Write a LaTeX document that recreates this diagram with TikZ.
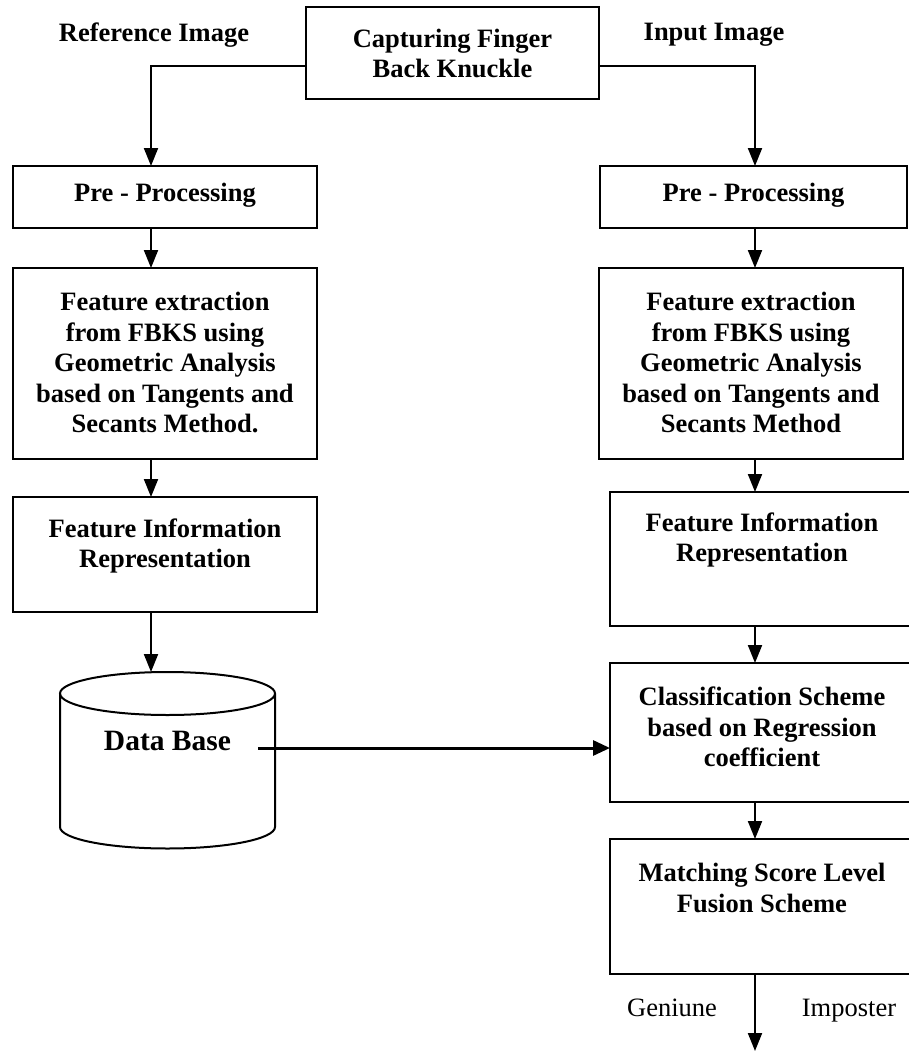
\documentclass[tikz,border=0pt]{standalone}
\usepackage{fontspec}
\setmainfont{Liberation Serif}
\usetikzlibrary{arrows.meta}
\begin{document}
\begin{tikzpicture}[x=1pt,y=-1pt,
  every node/.style={inner sep=0pt, outer sep=0pt},
  boxshape/.style={draw, line width=2pt, rectangle},
  txt/.style={align=center, font=\fontsize{26.5pt}{30.5pt}\selectfont\bfseries},
  bigtxt/.style={align=center, font=\fontsize{29.5pt}{33pt}\selectfont\bfseries},
  plain/.style={font=\fontsize{26.5pt}{30.5pt}\selectfont},
  arr/.style={line width=2pt, -{Triangle[length=18pt,width=14pt]}},
  thickarr/.style={line width=3pt, -{Triangle[length=17pt,width=15pt]}}]
\clip (0,0) rectangle (909,1052);
\fill[white] (0,0) rectangle (909,1052);
\coordinate (colL) at (151,0);
\coordinate (colR) at (755,0);
% top
\node[boxshape, minimum width=293pt, minimum height=92pt] (top) at (452.5,53) {};
\node[txt] (topt) at (452.5,53.5) {Capturing Finger\\Back Knuckle};
\node[txt] (reflab) at (154,35) {Reference Image};
\node[txt] (inlab) at (714,35) {Input Image};
% left column
\node[boxshape, minimum width=304pt, minimum height=62pt] (pre1) at (165,197) {};
\node[txt] (pre1t) at (165,195) {Pre - Processing};
\node[boxshape, minimum width=304pt, minimum height=191pt] (feat1) at (165,363.5) {};
\node[txt] (feat1t) at (165,362.5) {Feature extraction\\from FBKS using\\Geometric Analysis\\based on Tangents and\\Secants Method.};
\node[boxshape, minimum width=304pt, minimum height=115pt] (info1) at (165,554.5) {};
\node[txt] (info1t) at (165,546) {Feature Information\\Representation};
% database cylinder
\draw[line width=2pt] (167.5,693.5) ellipse[x radius=107.5, y radius=21.5];
\draw[line width=2pt] (60,693.5) -- (60,827) arc[start angle=180, end angle=0, x radius=107.5, y radius=21.5] -- (275,693.5);
\node[bigtxt] (db) at (167.5,741) {Data Base};
\coordinate (dbout) at ([xshift=27pt,yshift=-7pt]db.east);
% right column
\node[boxshape, minimum width=307pt, minimum height=62pt] (pre2) at (753.5,197) {};
\node[txt] (pre2t) at (753.5,195) {Pre - Processing};
\node[boxshape, minimum width=304pt, minimum height=191pt] (feat2) at (751,363.5) {};
\node[txt] (feat2t) at (751,362.5) {Feature extraction\\from FBKS using\\Geometric Analysis\\based on Tangents and\\Secants Method};
\node[boxshape, minimum width=310pt, minimum height=134pt] (info2) at (765,559) {};
\node[txt] (info2t) at (762,540) {Feature Information\\Representation};
\node[boxshape, minimum width=310pt, minimum height=139pt] (cls) at (765,732.5) {};
\node[txt] (clst) at (762,727) {Classification Scheme\\based on Regression\\coefficient};
\node[boxshape, minimum width=310pt, minimum height=135pt] (mat) at (765,906.5) {};
\node[txt] (matt) at (762,888) {Matching Score Level\\Fusion Scheme};
\node[plain] (gen) at (672,1008) {Geniune};
\node[plain] (imp) at (849,1011) {Imposter};
\coordinate (outp) at (755,1051);
% connectors
\draw[arr] ([yshift=-13pt]top.west) -| (pre1.north -| colL);
\draw[arr] ([yshift=-13pt]top.east) -| (pre2.north -| colR);
\draw[arr] (pre1.south -| colL) -- (feat1.north -| colL);
\draw[arr] (feat1.south -| colL) -- (info1.north -| colL);
\draw[arr] (info1.south -| colL) -- (151,672);
\draw[arr] (pre2.south -| colR) -- (feat2.north -| colR);
\draw[arr] (feat2.south -| colR) -- (info2.north -| colR);
\draw[arr] (info2.south -| colR) -- (cls.north -| colR);
\draw[arr] (cls.south -| colR) -- (mat.north -| colR);
\draw[arr] (mat.south -| colR) -- (outp);
\draw[thickarr] (dbout) -- (cls.west |- dbout);
\end{tikzpicture}
\end{document}
